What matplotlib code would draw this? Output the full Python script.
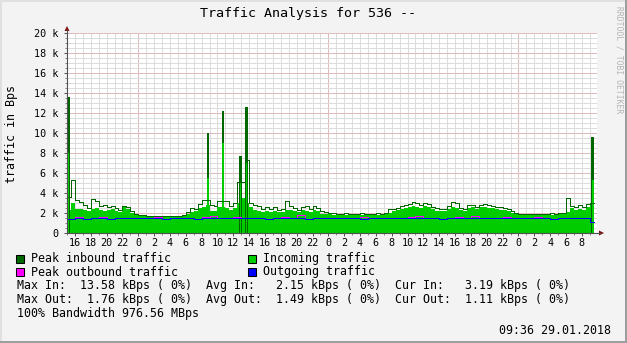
import numpy as np
import matplotlib
matplotlib.use('Agg')
import matplotlib.pyplot as plt
from matplotlib.patches import Rectangle, Polygon
from matplotlib.lines import Line2D

W, H = 627, 343
MONO = 'DejaVu Sans Mono'

# traffic in k (Bps), hours counted from midnight 27.01.2018
# inbound: one slot every 30 minutes starting at 15:00 on 26.01
in_start = -9.0
in_avg = [
    # 26.01 15:00 - 24:00
    2.3, 3.0, 2.4, 2.4, 2.3, 2.2, 2.4, 2.5, 2.3, 2.2, 2.3, 2.4, 2.2, 2.1, 2.6, 2.4, 2.0, 1.8,
    # 27.01
    1.7, 1.7, 1.7, 1.6, 1.6, 1.6, 1.6, 1.6, 1.6, 1.6, 1.6, 1.7,
    1.9, 2.1, 2.2, 2.5, 2.6, 2.8, 2.2, 2.2, 2.6, 2.6, 2.5, 2.3,
    2.5, 3.0, 3.5, 3.0, 2.6, 2.3, 2.2, 2.1, 2.2, 2.1, 2.2, 2.1,
    2.1, 2.3, 2.3, 2.2, 2.1, 2.3, 2.2, 2.1, 2.3, 2.2, 1.9, 1.9,
    # 28.01
    1.9, 1.8, 1.8, 1.8, 1.8, 1.8, 1.8, 1.8, 1.8, 1.8, 1.8, 1.8,
    1.8, 1.8, 1.9, 2.0, 2.2, 2.3, 2.4, 2.5, 2.6, 2.7, 2.6, 2.5,
    2.7, 2.6, 2.4, 2.2, 2.2, 2.2, 2.4, 2.6, 2.5, 2.3, 2.2, 2.5,
    2.6, 2.4, 2.6, 2.6, 2.5, 2.5, 2.4, 2.3, 2.3, 2.2, 2.0, 1.9,
    # 29.01 until 09:36
    1.8, 1.8, 1.8, 1.8, 1.8, 1.8, 1.8, 1.8, 1.8, 1.8, 1.9, 1.9,
    2.1, 2.5, 2.3, 2.4, 2.3, 2.6, 2.8,
]
in_peak = [
    3.6, 5.3, 3.3, 3.1, 2.8, 2.5, 3.4, 3.2, 2.7, 2.8, 2.6, 2.7, 2.5, 2.3, 2.7, 2.6, 2.2, 1.9,
    1.8, 1.8, 1.75, 1.7, 1.7, 1.7, 1.7, 1.7, 1.7, 1.7, 1.75, 1.8,
    2.1, 2.5, 2.4, 2.9, 3.3, 3.3, 2.8, 2.7, 3.2, 3.2, 3.2, 2.7,
    3.0, 5.1, 5.1, 7.3, 3.0, 2.8, 2.7, 2.4, 2.6, 2.4, 2.6, 2.3,
    2.4, 3.2, 2.7, 2.5, 2.3, 2.6, 2.7, 2.4, 2.7, 2.5, 2.2, 2.1,
    2.0, 2.0, 1.9, 1.9, 2.0, 1.9, 1.9, 1.9, 2.0, 1.9, 1.9, 1.9,
    2.0, 1.9, 2.0, 2.4, 2.4, 2.5, 2.7, 2.8, 2.9, 3.1, 3.0, 2.8,
    3.0, 2.9, 2.6, 2.5, 2.4, 2.4, 2.7, 3.1, 3.0, 2.5, 2.4, 2.8,
    2.8, 2.6, 2.8, 2.9, 2.8, 2.7, 2.6, 2.6, 2.5, 2.4, 2.2, 2.0,
    1.9, 1.9, 1.9, 1.9, 1.9, 1.9, 1.9, 1.9, 2.0, 1.9, 2.0, 2.0,
    3.5, 2.7, 2.6, 2.8, 2.6, 2.9, 3.0,
]
# short inbound bursts (about 20 min wide)
spike_t = [-8.8, 8.8, 10.7, 12.95, 13.65, 57.4]
spike_peak = [13.6, 10.0, 12.2, 7.7, 12.6, 9.6]
spike_avg = [8.0, 5.5, 9.0, 5.0, 7.0, 5.3]

# outbound: one slot per hour
out_start = -9.0
out_avg = [
    1.45, 1.5, 1.45, 1.5, 1.5, 1.45, 1.5, 1.5, 1.5,
    1.5, 1.5, 1.5, 1.45, 1.5, 1.5, 1.5, 1.45, 1.5, 1.55, 1.5, 1.5,
    1.55, 1.5, 1.5, 1.5, 1.45, 1.5, 1.5, 1.5, 1.5, 1.45, 1.5, 1.5,
    1.5, 1.5, 1.5, 1.5, 1.45, 1.5, 1.5, 1.5, 1.5, 1.5, 1.5, 1.55,
    1.5, 1.5, 1.45, 1.5, 1.5, 1.5, 1.55, 1.5, 1.5, 1.5, 1.5, 1.5,
    1.5, 1.5, 1.5, 1.5, 1.45, 1.5, 1.5, 1.5, 1.5, 1.1,
]
out_peak = [
    1.45, 1.6, 1.45, 1.5, 1.6, 1.45, 1.5, 1.5, 1.5,
    1.5, 1.5, 1.6, 1.45, 1.5, 1.5, 1.5, 1.45, 1.65, 1.7, 1.5, 1.5,
    1.65, 1.5, 1.5, 1.5, 1.45, 1.5, 1.6, 1.5, 1.76, 1.45, 1.5, 1.5,
    1.5, 1.5, 1.5, 1.5, 1.6, 1.5, 1.5, 1.5, 1.5, 1.5, 1.6, 1.7,
    1.5, 1.5, 1.45, 1.5, 1.6, 1.5, 1.7, 1.5, 1.5, 1.5, 1.6, 1.5,
    1.5, 1.5, 1.6, 1.5, 1.45, 1.5, 1.5, 1.5, 1.5, 1.1,
]
t_end = 57.6  # 09:36 29.01.2018

x_ticks = list(range(-8, 57, 2))
x_labels = ['16', '18', '20', '22',
            '0', '2', '4', '6', '8', '10', '12', '14', '16', '18', '20', '22',
            '0', '2', '4', '6', '8', '10', '12', '14', '16', '18', '20', '22',
            '0', '2', '4', '6', '8']
y_ticks = [0, 2, 4, 6, 8, 10, 12, 14, 16, 18, 20]
y_labels = ['0', '2 k', '4 k', '6 k', '8 k', '10 k', '12 k', '14 k', '16 k', '18 k', '20 k']

legend_items = [('Peak inbound traffic', '#006600'), ('Incoming traffic', '#00cc00'),
                ('Peak outbound traffic', '#ff00ff'), ('Outgoing traffic', '#0000ff')]
stat_lines = ['Max In:  13.58 kBps ( 0%)  Avg In:   2.15 kBps ( 0%)  Cur In:   3.19 kBps ( 0%)',
              'Max Out:  1.76 kBps ( 0%)  Avg Out:  1.49 kBps ( 0%)  Cur Out:  1.11 kBps ( 0%)',
              '100% Bandwidth 976.56 MBps']


def fx(x):
    return x / W


def fy(y):
    return 1 - y / H


def steps(start, step, vals, end):
    t = start + step * np.arange(len(vals) + 1)
    t[-1] = end
    v = np.append(vals, vals[-1])
    return t, v


px_per_h = 7.92
fig = plt.figure(figsize=(W / 100, H / 100), dpi=100, facecolor='#f3f3f3')
ax = fig.add_axes([fx(67), fy(233), 530 / W, 200 / H], facecolor='white')
x0 = -9.0
ax.set_xlim(x0, x0 + 530 / px_per_h)
ax.set_ylim(0, 20)
for s in ax.spines.values():
    s.set_visible(False)

# grid: minor every hour / 0.5 k, major at midnight / 2 k
for h in range(-9, 58):
    c = '#dfbcbc' if h % 24 == 0 else '#dcdcdc'
    ax.axvline(h, color=c, lw=0.72, ls=(0, (1, 1)), zorder=1, antialiased=False)
for v in np.arange(0.5, 20.01, 0.5):
    c = '#dfbcbc' if abs(v % 2) < 1e-9 else '#dcdcdc'
    ax.axhline(v, color=c, lw=0.72, ls=(0, (1, 1)), zorder=1, antialiased=False)

t_in, a_in = steps(in_start, 0.5, in_avg, t_end)
_, p_in = steps(in_start, 0.5, in_peak, t_end)
t_out, a_out = steps(out_start, 1.0, out_avg, t_end)
_, p_out = steps(out_start, 1.0, out_peak, t_end)

ax.fill_between(t_in, a_in, step='post', color='#00cc00', lw=0, zorder=2)
ax.bar(spike_t, spike_peak, width=0.36, color='#006600', lw=0, zorder=2.2)
ax.bar(spike_t, spike_avg, width=0.16, color='#00cc00', lw=0, zorder=2.3)
ax.step(t_in, p_in, where='post', color='#006600', lw=0.72, zorder=3, antialiased=False)
ax.step(t_out, p_out, where='post', color='#ff00ff', lw=0.72, zorder=4, antialiased=False)
ax.step(t_out, a_out, where='post', color='#0000ff', lw=0.72, zorder=5, antialiased=False)

ax.set_xticks(x_ticks, x_labels)
ax.set_xticks(range(-9, 58), minor=True)
ax.set_yticks(y_ticks, y_labels)
ax.set_yticks(np.arange(0, 20.01, 0.5), minor=True)
ax.tick_params(axis='both', which='major', labelsize=7.3, colors='#555555', labelcolor='black',
               length=2.2, width=0.72, direction='out')
ax.tick_params(axis='both', which='minor', length=1.5, width=0.72, colors='#888888', direction='out')
ax.tick_params(axis='x', pad=1.5)
ax.tick_params(axis='y', pad=4.0)
for lab in ax.get_xticklabels() + ax.get_yticklabels():
    lab.set_family(MONO)

# axes with arrows
fig.add_artist(Line2D([fx(67), fx(600)], [fy(233), fy(233)], color='#505050', lw=0.8))
fig.add_artist(Line2D([fx(67), fx(67)], [fy(233), fy(30)], color='#505050', lw=0.8))
fig.add_artist(Polygon([[fx(599), fy(230.5)], [fx(604), fy(233)], [fx(599), fy(235.5)]],
                       closed=True, color='#7f1010', transform=fig.transFigure, lw=0))
fig.add_artist(Polygon([[fx(64.5), fy(31)], [fx(67), fy(26)], [fx(69.5), fy(31)]],
                       closed=True, color='#7f1010', transform=fig.transFigure, lw=0))

# titles
fig.text(fx(308), fy(14), 'Traffic Analysis for 536 --', family=MONO, fontsize=9.6,
         ha='center', va='center')
fig.text(fx(12), fy(134), 'traffic in Bps', family=MONO, fontsize=8.4,
         rotation=90, ha='center', va='center')
fig.text(fx(619), fy(60), 'RRDTOOL / TOBI OETIKER', family=MONO, fontsize=5.8,
         rotation=-90, ha='center', va='center', color='#b4b4b4')

# legend
for i, (name, col) in enumerate(legend_items):
    lx = 16 if i % 2 == 0 else 248
    ly = 258.5 if i < 2 else 272
    fig.add_artist(Rectangle((fx(lx), fy(ly + 4)), 8 / W, 8 / H, transform=fig.transFigure,
                             facecolor=col, edgecolor='black', lw=0.75))
    fig.text(fx(lx + 15), fy(ly), name, family=MONO, fontsize=8.4, ha='left', va='center')

for i, line in enumerate(stat_lines):
    fig.text(fx(17), fy(286 + 14 * i), line, family=MONO, fontsize=8.4, ha='left', va='center')
fig.text(fx(611), fy(331), '09:36 29.01.2018', family=MONO, fontsize=8.4, ha='right', va='center')

# 3d frame
fig.add_artist(Rectangle((0, fy(2)), 1, 2 / H, transform=fig.transFigure, color='#e0e0e0', lw=0))
fig.add_artist(Rectangle((0, 0), 2 / W, 1, transform=fig.transFigure, color='#e0e0e0', lw=0))
fig.add_artist(Rectangle((fx(624.5), 0), 2.5 / W, 1, transform=fig.transFigure, color='#9e9e9e', lw=0))
fig.add_artist(Rectangle((0, 0), 1, 2.5 / H, transform=fig.transFigure, color='#9e9e9e', lw=0))

fig.savefig('out.png', dpi=100, facecolor=fig.get_facecolor())
